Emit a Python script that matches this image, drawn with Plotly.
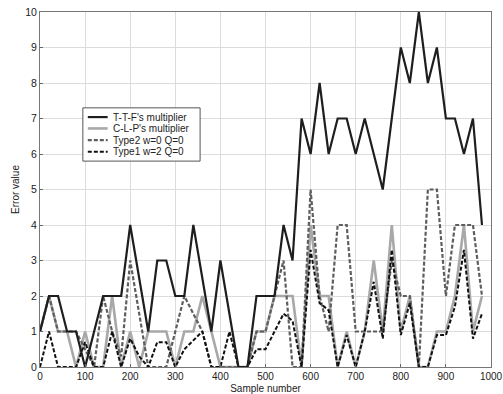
import plotly.graph_objects as go

sample_number = [0, 20, 40, 60, 80, 100, 120, 140, 160, 180,
                 200, 220, 240, 260, 280, 300, 320, 340, 360, 380,
                 400, 420, 440, 460, 480, 500, 520, 540, 560, 580,
                 600, 620, 640, 660, 680, 700, 720, 740, 760, 780,
                 800, 820, 840, 860, 880, 900, 920, 940, 960, 980]

ttf_multiplier = [1, 2, 2, 1, 1, 0, 1, 2, 2, 2,
                  4, 2.5, 1, 3, 3, 2, 2, 4, 2.5, 1,
                  3, 1.5, 0, 0, 2, 2, 2, 4, 3, 7,
                  6, 8, 6, 7, 7, 6, 7, 6, 5, 7,
                  9, 8, 10, 8, 9, 7, 7, 6, 7, 4]

clp_multiplier = [1, 2, 1, 1, 0, 1, 0, 0, 2, 0,
                  1, 0, 1, 1, 1, 0, 1, 1, 2, 1,
                  0, 0, 0, 0, 1, 1, 2, 2, 2, 0,
                  4, 2, 2, 0, 1, 0, 1, 3, 1, 4,
                  1, 2, 0, 0, 1, 1, 2, 4, 1, 2]

type2_w0_q0 = [1, 2, 1, 1, 1, 0.5, 0, 2, 1, 0.3,
               3, 1.5, 0, 0, 0, 1, 2, 1.5, 1, 0,
               0, 0, 0, 0, 1, 1, 2, 3, 0, 0,
               5, 2, 1, 4, 4, 1, 1, 1, 1, 3,
               2, 2, 0, 5, 5, 2, 4, 4, 4, 2]

type1_w2_q0 = [0, 1, 0, 0, 0, 0.7, 0, 0, 1, 0,
               0.8, 0.3, 0, 0.7, 0.7, 0, 0.5, 0.75, 1, 0,
               0, 1, 0, 0, 0.5, 0.5, 1, 1.5, 1.3, 0,
               3.3, 1.8, 1.6, 0, 0.9, 0, 1, 2.4, 0.8, 3.3,
               0.9, 1.8, 0, 0, 0.9, 0.9, 1.7, 3.3, 0.8, 1.5]

series_names = ["T-T-F's multiplier", "C-L-P's multiplier",
                "Type2 w=0 Q=0", "Type1 w=2 Q=0"]
x_ticks = [0, 100, 200, 300, 400, 500, 600, 700, 800, 900, 1000]
y_ticks = [0, 1, 2, 3, 4, 5, 6, 7, 8, 9, 10]

styles = [
    dict(color="#a8a8a8", width=2.6, dash="solid"),
    dict(color="#5e5e5e", width=2.2, dash="4px,2px"),
    dict(color="#111111", width=2.0, dash="4px,2px"),
    dict(color="#1e1e1e", width=2.2, dash="solid"),
]

fig = go.Figure()
# draw order: grey solid, grey dashed, black dashed, black solid on top
for ys, st, nm in [(clp_multiplier, styles[0], series_names[1]),
                   (type2_w0_q0, styles[1], series_names[2]),
                   (type1_w2_q0, styles[2], series_names[3]),
                   (ttf_multiplier, styles[3], series_names[0])]:
    fig.add_trace(go.Scatter(x=sample_number, y=ys, mode="lines", name=nm,
                             line=st, showlegend=False, hoverinfo="skip"))

# custom compact legend (box, sample lines and labels in paper coordinates)
fig.add_shape(type="rect", xref="paper", yref="paper",
              x0=0.095, x1=0.355, y0=0.580, y1=0.730,
              line=dict(color="#555555", width=1), fillcolor="white", layer="above")
leg_styles = [styles[3], styles[0], styles[1], styles[2]]
row_y = [0.704, 0.672, 0.639, 0.606]
for nm, st, yy in zip(series_names, leg_styles, row_y):
    fig.add_shape(type="line", xref="paper", yref="paper",
                  x0=0.106, x1=0.150, y0=yy, y1=yy,
                  line=dict(color=st["color"], width=st["width"], dash=st["dash"]),
                  layer="above")
    fig.add_annotation(xref="paper", yref="paper", x=0.157, y=yy, text=nm,
                       showarrow=False, xanchor="left", yanchor="middle",
                       font=dict(size=10, color="#222222"))

fig.update_layout(
    width=503, height=394,
    margin=dict(l=40, r=12, t=12, b=27),
    paper_bgcolor="white", plot_bgcolor="white",
    font=dict(family="Liberation Sans, Arial, sans-serif", size=10, color="#222222"),
)
fig.update_xaxes(range=[0, 1000], tickvals=x_ticks, ticks="inside", ticklen=3,
                 tickcolor="#666666", showgrid=True, gridcolor="#dcdcdc", gridwidth=1,
                 showline=True, linecolor="#777777", linewidth=1, mirror=True,
                 zeroline=False, tickfont=dict(size=10), ticklabeloverflow="allow",
                 automargin=False,
                 title=dict(text="Sample number", font=dict(size=10), standoff=4))
fig.update_yaxes(range=[0, 10], tickvals=y_ticks, ticks="inside", ticklen=3,
                 tickcolor="#666666", showgrid=True, gridcolor="#dcdcdc", gridwidth=1,
                 showline=True, linecolor="#777777", linewidth=1, mirror=True,
                 zeroline=False, tickfont=dict(size=10.5), ticklabeloverflow="allow",
                 automargin=False,
                 title=dict(text="Error value", font=dict(size=10), standoff=3))

fig.write_html("out.html", config={"displayModeBar": False},
               post_script="document.body.style.margin='0px';document.body.style.overflow='hidden';")
